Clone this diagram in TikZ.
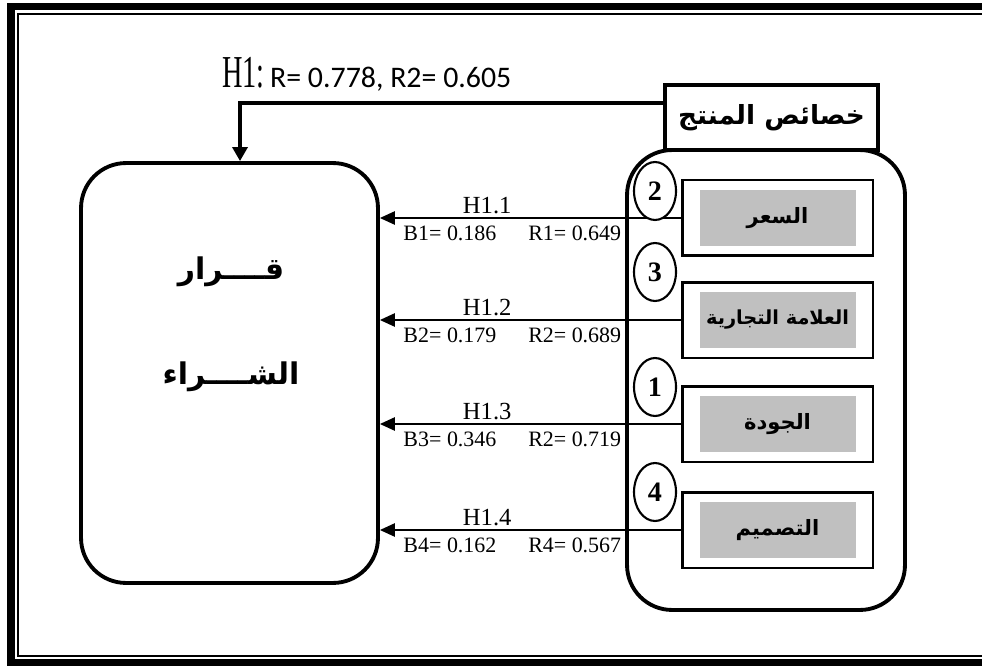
\documentclass[tikz,border=0pt]{standalone}
\usepackage{fontspec}
\usepackage{graphicx}
\usepackage{tikz}
\usetikzlibrary{calc,arrows.meta,shapes.geometric}
\setmainfont{Liberation Serif}
\newfontfamily\arabicfont[Script=Arabic]{DejaVu Sans}
\newfontfamily\calfont{Carlito}
\TeXXeTstate=1
\definecolor{ink}{HTML}{000000}
\definecolor{fillgray}{HTML}{C0C0C0}
\tikzset{
  frameout/.style={draw=ink, line width=4.2pt},
  framein/.style={draw=ink, line width=1.2pt},
  bigbox/.style={draw=ink, line width=2.2pt, rounded corners=0.9cm, inner sep=0pt},
  headbox/.style={draw=ink, line width=1.9pt, fill=white, inner sep=0pt, minimum width=4.26cm, minimum height=1.3cm},
  factor/.style={draw=ink, line width=1.7pt, fill=white, inner sep=0pt, minimum width=3.82cm, minimum height=1.52cm},
  factorin/.style={fill=fillgray, inner sep=0pt, minimum width=3.12cm, minimum height=1.12cm},
  rank/.style={ellipse, draw=ink, line width=1.2pt, fill=white, inner sep=0pt, minimum width=0.84cm, minimum height=1.16cm, font=\fontsize{16}{18}\selectfont\bfseries},
  link/.style={draw=ink, line width=1.1pt, -{Triangle[length=8.5pt,width=7.5pt]}},
  mainlink/.style={draw=ink, line width=2pt, -{Triangle[length=8pt,width=8.5pt]}},
  arbig/.style={font=\fontsize{15}{18}\arabicfont\bfseries},
  hlab/.style={font=\fontsize{14}{16}\selectfont, inner sep=2pt},
  vlab/.style={font=\fontsize{12.5}{15}\selectfont, inner sep=4pt},
}
\begin{document}
\begin{tikzpicture}[x=0.02cm, y=-0.02cm]
  \useasboundingbox (0,0) rectangle (982,665);
  \draw[frameout] (995,6.5) -- (11,6.5) -- (11,663) -- (995,663);
  \draw[framein] (995,14) -- (18,14) -- (18,656) -- (995,656);

  \node[anchor=base west, inner sep=0pt] (hyp) at (222,88)
    {\scalebox{0.62}[1]{\fontsize{26}{28}\selectfont H1:}\hspace{3pt}{\calfont\fontsize{17}{20}\selectfont R= 0.778, R2= 0.605}};

  \node[bigbox, minimum width=5.94cm, minimum height=8.4cm] (decision) at (229.5,373) {};
  \node[arbig, font=\fontsize{17}{20}\arabicfont\bfseries] (dec1) at (231,272) {\beginR قــــرار\endR};
  \node[arbig, font=\fontsize{17}{20}\arabicfont\bfseries] (dec2) at (231,377) {\beginR الشــــراء\endR};

  \node[bigbox, minimum width=5.56cm, minimum height=9.2cm] (traits) at (766,380) {};
  \node[headbox, arbig] (head) at (771.5,117.5) {\beginR خصائص المنتج\endR};

  \draw[mainlink] ($(head.west)+(0,-14.5)$) -| ($(decision.north)+(10.5,0)$);

  \foreach \i/\y/\ry/\n/\fs/\txt/\hv/\bv/\rv in {
      1/218/191/2/12/السعر/H1.1/B1= 0.186/R1= 0.649,
      2/320/272/3/11/العلامة التجارية/H1.2/B2= 0.179/R2= 0.689,
      3/424/387/1/12/الجودة/H1.3/B3= 0.346/R2= 0.719,
      4/530/492/4/12/التصميم/H1.4/B4= 0.162/R4= 0.567} {
    \node[factor] (f\i) at (777.5,\y) {};
    \node[factorin, font=\fontsize{\fs}{14}\arabicfont\bfseries] (g\i) at (f\i) {\beginR\txt\endR};
    \draw[link] (f\i.west) -- (decision.east |- f\i.west)
      node[hlab, above, pos=0.643] (h\i) {\hv}
      node[vlab, below, pos=0.767] (b\i) {\bv}
      node[vlab, below, pos=0.352] (r\i) {\rv};
    \node[rank] (k\i) at (655,\ry) {\n};
  }
\end{tikzpicture}
\end{document}
